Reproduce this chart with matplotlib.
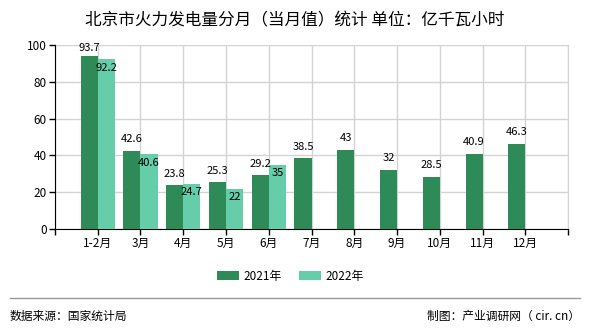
import matplotlib
matplotlib.use("Agg")
import matplotlib.pyplot as plt
import numpy as np

plt.rcParams['font.family'] = ['Noto Sans CJK SC', 'DejaVu Sans']

months = ['1-2月', '3月', '4月', '5月', '6月', '7月', '8月', '9月', '10月', '11月', '12月']
y2021 = [93.7, 42.6, 23.8, 25.3, 29.2, 38.5, 43, 32, 28.5, 40.9, 46.3]
y2022 = [92.2, 40.6, 24.7, 22, 35]

dark = '#2e8b57'
light = '#66cdaa'

fig = plt.figure(figsize=(5.9, 3.3), dpi=100)
ax = fig.add_axes([0.093, 0.306, 0.870, 0.558])

x = np.arange(len(months))
w = 0.4
ax.bar(x - w / 2, y2021, w, color=dark, label='2021年', zorder=3)
ax.bar(x[:len(y2022)] + w / 2, y2022, w, color=light, label='2022年', zorder=3)

for xi, v in zip(x, y2021):
    ax.text(xi - w / 2, min(v + 6.3, 98.3), f'{v:g}', ha='center', va='center',
            fontsize=8, zorder=4)
for xi, v in zip(x, y2022):
    ax.text(xi + w / 2, v - 4.6, f'{v:g}', ha='center', va='center',
            fontsize=8, zorder=4)

ax.set_xlim(-1, 11)
ax.set_ylim(0, 100)
ax.set_yticks(range(0, 101, 20))
ax.set_xticks(np.arange(-1, 12))
ax.set_xticklabels([''] + months + [''])
ax.tick_params(labelsize=8.5, length=4, width=1, color='black', pad=2)

ax.grid(True, color='#d3d3d3', linewidth=1, zorder=0)
ax.spines['top'].set_visible(False)
ax.spines['right'].set_color('#d3d3d3')
ax.spines['left'].set_color('black')
ax.spines['bottom'].set_color('black')

fig.text(0.5, 0.937, '北京市火力发电量分月（当月值）统计 单位：亿千瓦小时',
         ha='center', va='center', fontsize=12)

fig.legend(loc='center', bbox_to_anchor=(0.492, 0.163), ncol=2, frameon=False,
           fontsize=8.5, handlelength=1.9, handleheight=0.8, columnspacing=1.4,
           handletextpad=0.4)

fig.add_artist(plt.Line2D([0.017, 0.983], [0.097, 0.097], color='#999999',
                          linewidth=1, transform=fig.transFigure))
fig.text(0.017, 0.042, '数据来源：国家统计局', ha='left', va='center', fontsize=8.5)
fig.text(0.983, 0.042, '制图：产业调研网（ cir. cn）', ha='right', va='center', fontsize=8.5)

fig.savefig('out.png', dpi=100)
